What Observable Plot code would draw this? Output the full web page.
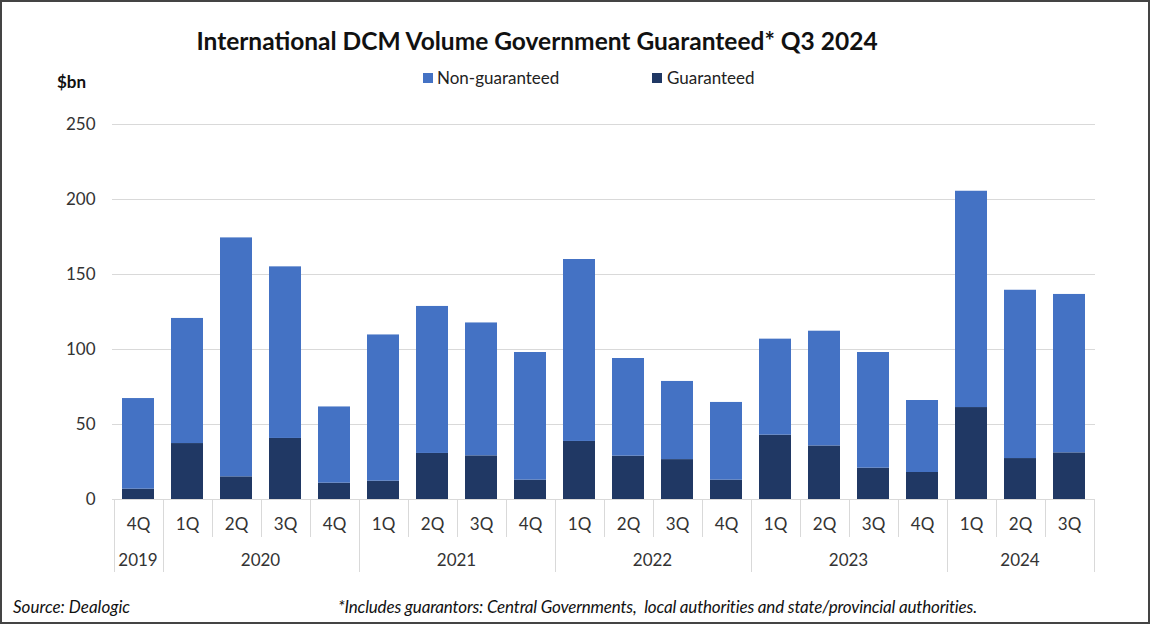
<!DOCTYPE html>
<html><head><meta charset="utf-8">
<script src="https://cdn.jsdelivr.net/npm/d3@7"></script>
<script src="https://cdn.jsdelivr.net/npm/@observablehq/plot@0.6"></script>
<style>
html,body{margin:0;padding:0;background:#fff;}
#wrap{position:relative;width:1150px;height:624px;overflow:hidden;font-family:Lato,"Open Sans",sans-serif;color:#1a1a1a;background:#fff;}
#chart{position:absolute;left:0;top:0;}
#frame{position:absolute;left:0;top:0;width:1150px;height:624px;box-sizing:border-box;border:2px solid #444;pointer-events:none;}
#title{position:absolute;left:0;width:1074px;top:29px;text-align:center;font-weight:bold;font-size:24.5px;line-height:1;color:#111;}
#unit{position:absolute;left:57px;top:73px;font-weight:bold;font-size:17px;line-height:17px;color:#111;}
.leg{position:absolute;top:69px;font-size:17px;line-height:17px;color:#222;white-space:nowrap;}
.sw{position:absolute;width:10px;height:10px;top:73px;}
.foot{position:absolute;top:598px;font-style:italic;font-size:17px;line-height:17px;color:#111;white-space:nowrap;}
</style></head>
<body>
<div id="wrap">
  <div id="chart"></div>
  <div id="title">International DCM Volume Government Guaranteed* Q3 2024</div>
  <div id="unit">$bn</div>
  <div class="sw" style="left:423px;background:#4472C4"></div>
  <div class="leg" style="left:437px">Non-guaranteed</div>
  <div class="sw" style="left:652px;background:#203864"></div>
  <div class="leg" style="left:667px">Guaranteed</div>
  <div class="foot" style="left:13px">Source: Dealogic</div>
  <div class="foot" style="left:338px;letter-spacing:-0.18px">*Includes guarantors: Central Governments,&nbsp; local authorities and state/provincial authorities.</div>
  <div id="frame"></div>
</div>
<script>
const quarters = ["4Q","1Q","2Q","3Q","4Q","1Q","2Q","3Q","4Q","1Q","2Q","3Q","4Q","1Q","2Q","3Q","4Q","1Q","2Q","3Q"];
const years = [2019,2020,2020,2020,2020,2021,2021,2021,2021,2022,2022,2022,2022,2023,2023,2023,2023,2024,2024,2024];
const guaranteed = [6.9,37.3,15.1,40.7,10.9,12.2,30.7,29.1,12.9,38.7,28.9,26.6,12.9,42.9,35.7,20.9,18.0,61.3,27.3,31.1];
const nonGuaranteed = [60.4,83.4,159.3,114.4,50.8,97.5,98.0,88.6,85.1,121.3,65.1,52.1,51.8,64.0,76.5,77.1,48.0,144.2,112.2,105.6];
const yTicks = [0,50,100,150,200,250];
const seriesNames = ["Non-guaranteed","Guaranteed"];
const seriesColors = ["#4472C4","#203864"];

const keys = quarters.map((q,i)=>`${q} ${years[i]}`);
const rows = [];
keys.forEach((k,i)=>rows.push({key:k, series:"Guaranteed", value:guaranteed[i]}));
keys.forEach((k,i)=>rows.push({key:k, series:"Non-guaranteed", value:nonGuaranteed[i]}));

const W = 1150, H = 624, mT = 124, mB = 125, mL = 112, mR = 55;
const plot = Plot.plot({
  width:W, height:H, marginTop:mT, marginBottom:mB, marginLeft:mL, marginRight:mR,
  style:{fontFamily:"Lato, 'Open Sans', sans-serif", fontSize:"17px", color:"#333", background:"transparent"},
  x:{domain:keys, paddingInner:0.35, paddingOuter:0.175, label:null},
  y:{domain:[0,250], label:null},
  color:{domain:seriesNames, range:seriesColors},
  marks:[
    Plot.gridY(yTicks,{stroke:"#d9d9d9", strokeOpacity:1}),
    Plot.barY(rows,{x:"key", y:"value", fill:"series", order:["Guaranteed","Non-guaranteed"]}),
    Plot.axisY(yTicks,{tickSize:0, tickPadding:17, fontSize:17, fill:"#333", label:null}),
    Plot.axisX({tickSize:0, tickPadding:18, tickFormat:k=>k.split(" ")[0], fontSize:17, fill:"#333", label:null})
  ]
});
document.getElementById("chart").appendChild(plot);

// two-level category axis: separators and year labels
const sx = plot.scale("x");
const step = sx.step ?? (sx.apply(keys[1]) - sx.apply(keys[0]));
const bw = sx.bandwidth ?? step*0.65;
const leftOf = k => sx.apply(k) - (step - bw)/2;
const svg = d3.select(plot);
const base = H - mB;
const g = svg.append("g").attr("stroke","#d9d9d9").attr("stroke-width",1);
keys.forEach((k,i)=>{
  const yearStart = i===0 || years[i]!==years[i-1];
  const x = Math.round(leftOf(k))+0.5;
  g.append("line").attr("x1",x).attr("x2",x).attr("y1",base).attr("y2",yearStart?572:537);
});
const xr = Math.round(leftOf(keys[keys.length-1])+step)+0.5;
g.append("line").attr("x1",xr).attr("x2",xr).attr("y1",base).attr("y2",572);
const groups = d3.groups(keys.map((k,i)=>({k,y:years[i]})), d=>d.y);
const tg = svg.append("g").attr("font-size",17).attr("fill","#333").attr("text-anchor","middle");
groups.forEach(([yr, arr])=>{
  const x0 = leftOf(arr[0].k), x1 = leftOf(arr[arr.length-1].k)+step;
  tg.append("text").attr("x",(x0+x1)/2).attr("y",560).attr("dy","0.35em").text(yr);
});
</script>
</body></html>
